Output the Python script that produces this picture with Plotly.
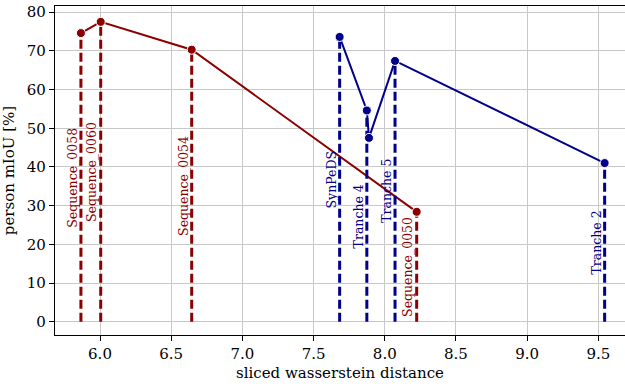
import plotly.graph_objects as go

red_names = ["Sequence_0058", "Sequence_0060", "Sequence_0054", "Sequence_0050"]
red_x = [5.866, 6.005, 6.644, 8.224]
red_y = [74.6, 77.5, 70.3, 28.4]

blue_x = [7.683, 7.874, 7.889, 8.072, 9.544]
blue_y = [73.6, 54.6, 47.5, 67.4, 41.0]
blue_label_idx = [0, 1, 3, 4]
blue_label_names = ["SynPeDS", "Tranche 4", "Tranche 5", "Tranche 2"]

x_ticks = [6.0, 6.5, 7.0, 7.5, 8.0, 8.5, 9.0, 9.5]
y_ticks = [0, 10, 20, 30, 40, 50, 60, 70, 80]

RED = "#8b0000"
BLUE = "#00008b"
FONT = "DejaVu Serif"

fig = go.Figure()

def add_series(xs, ys, color, label_pts):
    for (x, y, name) in label_pts:
        fig.add_trace(go.Scatter(x=[x, x], y=[0, y], mode="lines",
                                 line=dict(color=color, width=3, dash="9px,4px"),
                                 hoverinfo="skip", showlegend=False))
    fig.add_trace(go.Scatter(x=xs, y=ys, mode="lines+markers",
                             line=dict(color=color, width=2),
                             marker=dict(size=9, color=color, line=dict(color="white", width=1)),
                             showlegend=False))
    for (x, y, name) in label_pts:
        fig.add_annotation(x=x, y=y / 2, text=name, textangle=-90, showarrow=False,
                           xanchor="center", yanchor="middle", xshift=-8.5,
                           font=dict(family=FONT, size=12.5, color=color))

add_series(red_x, red_y, RED, list(zip(red_x, red_y, red_names)))
add_series(blue_x, blue_y, BLUE,
           [(blue_x[i], blue_y[i], n) for i, n in zip(blue_label_idx, blue_label_names)])

fig.update_layout(
    width=625, height=386,
    margin=dict(l=55, r=0, t=6, b=51),
    plot_bgcolor="white", paper_bgcolor="white",
    font=dict(family=FONT, size=15, color="black"),
    xaxis=dict(range=[5.684, 9.687], tickvals=x_ticks, ticktext=[f"{v:.1f}" for v in x_ticks],
               showgrid=True, gridcolor="#c8c8c8", gridwidth=1.3,
               showline=True, linecolor="black", linewidth=1.3, mirror=True,
               ticks="outside", ticklen=5, tickcolor="black", tickwidth=1,
               zeroline=False, automargin=False,
               title=dict(text="sliced wasserstein distance", font=dict(size=15), standoff=5)),
    yaxis=dict(range=[-3.44, 81.6], tickvals=y_ticks,
               showgrid=True, gridcolor="#c8c8c8", gridwidth=1.3,
               showline=True, linecolor="black", linewidth=1.3,
               ticks="outside", ticklen=5, tickcolor="black", tickwidth=1,
               zeroline=False, automargin=False,
               title=dict(text="person mIoU [%]", font=dict(size=15), standoff=8)),
)

fig.write_html("out.html", config={"displayModeBar": False},
               post_script="document.body.style.margin='0';document.body.style.overflow='hidden';")
